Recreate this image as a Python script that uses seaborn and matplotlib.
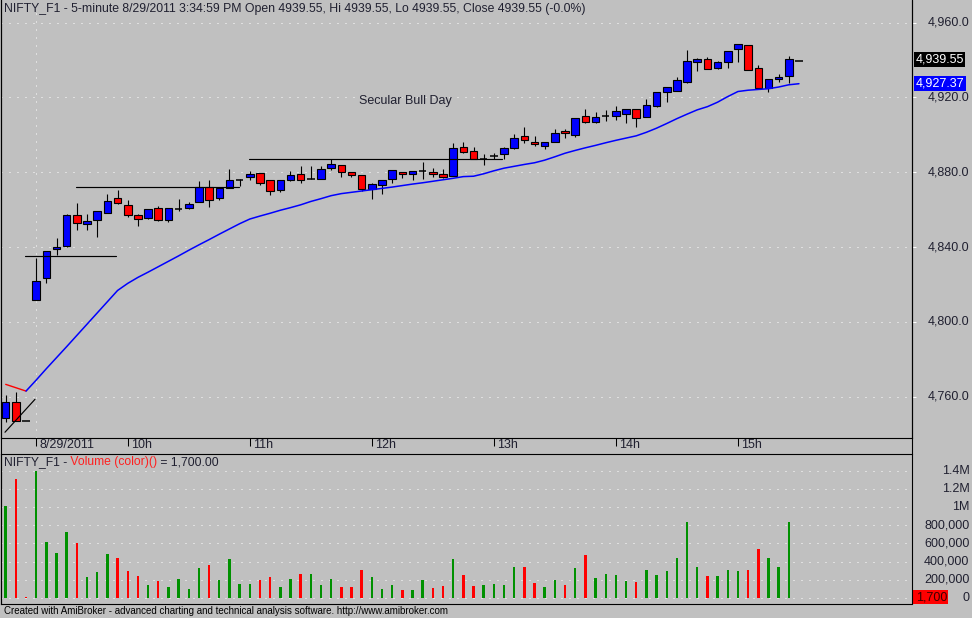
import numpy as np
import pandas as pd
import matplotlib
matplotlib.use("Agg")
import matplotlib.pyplot as plt
import matplotlib.transforms as mtransforms
from matplotlib.patches import Rectangle
from matplotlib.lines import Line2D
import seaborn as sns

# NIFTY_F1 5-minute bars (last 3 bars of 8/26 + 8/29/2011)
opens = [4748.4, 4757.0, 4746.9, 4811.6, 4823.3, 4838.8, 4840.7, 4857.2, 4852.2, 4854.7,
         4858.1, 4866.1, 4862.5, 4857.2, 4855.4, 4861.1, 4854.3, 4860.5, 4860.7, 4864.3,
         4872.0, 4866.1, 4871.6, 4876.0, 4877.3, 4879.6, 4875.7, 4870.4, 4875.7, 4879.1,
         4876.6, 4876.6, 4882.5, 4883.9, 4880.0, 4878.4, 4871.2, 4873.1, 4876.3, 4880.0,
         4878.9, 4880.9, 4880.0, 4878.9, 4878.2, 4893.4, 4891.2, 4887.1, 4888.9, 4889.6,
         4892.8, 4899.3, 4896.0, 4894.2, 4896.4, 4902.1, 4900.1, 4910.0, 4906.7, 4910.0,
         4910.0, 4911.3, 4913.7, 4909.7, 4915.6, 4923.1, 4923.6, 4928.1, 4938.8, 4940.4,
         4935.6, 4938.8, 4945.9, 4948.1, 4935.6, 4924.9, 4929.7, 4931.5, 4939.55]
highs = [4760.9, 4762.4, 4746.9, 4834.3, 4838.0, 4845.0, 4857.5, 4863.7, 4857.7, 4859.5,
         4868.2, 4870.5, 4865.2, 4857.9, 4860.4, 4862.0, 4860.8, 4865.6, 4864.3, 4875.3,
         4875.9, 4871.6, 4881.8, 4876.2, 4880.7, 4879.8, 4875.9, 4875.9, 4880.7, 4883.4,
         4883.4, 4883.5, 4887.0, 4884.1, 4880.2, 4878.6, 4874.1, 4876.1, 4881.4, 4880.2,
         4880.9, 4885.5, 4882.5, 4881.6, 4895.8, 4896.2, 4893.4, 4889.6, 4890.3, 4893.7,
         4900.5, 4904.2, 4899.4, 4896.2, 4903.2, 4903.0, 4909.1, 4913.9, 4912.2, 4913.3,
         4915.5, 4913.9, 4913.9, 4919.0, 4923.0, 4925.7, 4930.8, 4945.4, 4941.3, 4941.5,
         4939.5, 4944.9, 4948.6, 4948.3, 4937.4, 4929.9, 4932.7, 4942.2, 4939.55]
lows = [4746.3, 4747.0, 4746.9, 4811.6, 4820.6, 4835.8, 4840.2, 4849.1, 4849.1, 4845.6,
        4858.0, 4863.0, 4856.0, 4851.3, 4855.2, 4854.0, 4853.3, 4859.3, 4860.5, 4864.0,
        4861.6, 4865.2, 4871.4, 4872.8, 4875.9, 4873.2, 4867.9, 4869.6, 4875.5, 4874.4,
        4876.6, 4876.4, 4881.2, 4877.6, 4877.6, 4870.0, 4865.6, 4868.6, 4874.1, 4877.2,
        4875.9, 4876.6, 4877.3, 4877.0, 4878.0, 4890.2, 4887.0, 4884.1, 4887.0, 4887.0,
        4892.6, 4895.8, 4894.1, 4892.3, 4896.2, 4898.5, 4899.0, 4906.5, 4906.5, 4907.4,
        4908.0, 4906.5, 4904.4, 4909.5, 4915.0, 4917.8, 4923.4, 4927.9, 4934.3, 4935.0,
        4935.1, 4935.9, 4939.1, 4934.5, 4924.9, 4923.1, 4928.4, 4927.9, 4939.55]
closes = [4757.3, 4747.2, 4746.9, 4821.9, 4837.9, 4840.1, 4857.2, 4852.7, 4854.0, 4859.3,
          4864.5, 4863.4, 4857.0, 4854.9, 4860.2, 4854.3, 4860.7, 4860.5, 4862.9, 4872.0,
          4865.0, 4871.4, 4875.7, 4876.0, 4879.1, 4874.1, 4869.8, 4875.7, 4878.6, 4876.0,
          4876.6, 4881.9, 4884.4, 4880.0, 4878.4, 4871.2, 4873.7, 4875.9, 4881.2, 4878.9,
          4880.7, 4880.9, 4878.9, 4877.3, 4892.8, 4890.7, 4887.0, 4887.1, 4888.9, 4892.8,
          4898.2, 4897.1, 4895.0, 4896.0, 4900.9, 4900.9, 4908.9, 4906.7, 4909.4, 4910.0,
          4912.8, 4913.7, 4909.2, 4915.8, 4922.8, 4925.5, 4929.2, 4939.4, 4940.6, 4935.1,
          4938.8, 4944.7, 4948.4, 4934.5, 4924.9, 4929.7, 4931.0, 4940.6, 4939.55]
# moving average line as drawn on the chart
ema = [4766.6, 4764.8, 4763.0, 4768.9, 4775.0, 4780.9, 4786.8, 4792.8, 4798.8, 4804.8,
       4810.8, 4816.8, 4820.6, 4823.8, 4826.6, 4829.5, 4832.4, 4835.3, 4838.3, 4841.2,
       4844.0, 4846.9, 4849.7, 4852.5, 4855.0, 4856.6, 4858.1, 4859.7, 4861.1, 4862.6,
       4864.4, 4865.9, 4867.5, 4868.6, 4869.3, 4870.0, 4870.7, 4871.4, 4872.1, 4872.9,
       4873.7, 4874.4, 4875.2, 4876.0, 4876.8, 4877.7, 4877.9, 4879.2, 4880.8, 4882.2,
       4883.2, 4884.2, 4885.1, 4886.5, 4888.3, 4890.2, 4891.7, 4893.1, 4894.4, 4895.8,
       4897.1, 4898.3, 4899.5, 4901.4, 4903.6, 4906.1, 4908.7, 4911.1, 4913.4, 4915.1,
       4917.5, 4920.5, 4923.2, 4923.9, 4924.3, 4924.7, 4925.6, 4926.8, 4927.37]
volume = [1016000, 1313000, 10000, 1400000, 611000, 490000, 720000, 600000, 227000, 282000,
          479000, 435000, 293000, 238000, 139000, 183000, 117000, 205000, 95000, 325000,
          358000, 194000, 424000, 150000, 150000, 194000, 227000, 117000, 205000, 260000,
          260000, 139000, 205000, 117000, 117000, 303000, 227000, 95000, 139000, 86000,
          86000, 198000, 110000, 132000, 429000, 253000, 132000, 143000, 154000, 143000,
          341000, 341000, 165000, 121000, 198000, 143000, 330000, 473000, 220000, 264000,
          253000, 187000, 176000, 308000, 253000, 297000, 440000, 837000, 341000, 242000,
          242000, 308000, 297000, 308000, 539000, 440000, 341000, 837000, 1700]
# 1 = green volume bar, 0 = red
vol_up = [1, 0, 0, 1, 1, 1, 1, 0, 1, 1, 1, 0, 0, 0, 1, 0, 1, 1, 1, 1,
          0, 1, 1, 1, 1, 0, 0, 1, 1, 0, 1, 1, 1, 0, 0, 0, 1, 1, 1, 0,
          1, 1, 0, 0, 1, 0, 0, 1, 1, 1, 1, 0, 0, 1, 1, 0, 1, 0, 1, 1,
          1, 1, 0, 1, 1, 1, 1, 1, 1, 0, 1, 1, 1, 0, 0, 1, 1, 1, 0]

tick_bars = [3, 12, 24, 36, 48, 60, 72]
tick_labels = ["8/29/2011", "10h", "11h", "12h", "13h", "14h", "15h"]
price_ticks = [4760, 4800, 4840, 4880, 4920, 4960]
vol_ticks = [0, 200000, 400000, 600000, 800000, 1000000, 1200000, 1400000]
vol_labels = ["0", "200,000", "400,000", "600,000", "800,000", "1M", "1.2M", "1.4M"]

# hand drawn trend lines: (bar from, bar to, price from, price to)
draw_x0 = [1.9, 6.9, 23.9, -0.07]
draw_x1 = [10.8, 22.9, 48.8, 2.88]
draw_y0 = [4835.2, 4872.0, 4887.0, 4741.0]
draw_y1 = [4835.2, 4872.0, 4887.0, 4758.6]

df = pd.DataFrame({"open": opens, "high": highs, "low": lows, "close": closes,
                   "ema": ema, "volume": volume, "up": vol_up})
df["bar"] = np.arange(len(df))

BG = "#c0c0c0"
TXT = "#202030"
sns.set_theme(style="white", rc={"axes.facecolor": BG, "figure.facecolor": BG,
                                 "axes.edgecolor": "black"})
plt.rcParams["font.family"] = ["Liberation Sans", "DejaVu Sans"]

W, H = 972, 618
fig = plt.figure(figsize=(W / 100, H / 100), dpi=100)


def fx(px):
    return px / W


def fy(py):
    return 1 - py / H


ax = fig.add_axes([fx(1), fy(438.3), fx(911.7) - fx(1), 438.3 / H])
axv = fig.add_axes([fx(1), fy(604.3), fx(911.7) - fx(1), (604.3 - 454.3) / H])
xlim = ((1 - 5.7) / 10.17, (911.7 - 5.7) / 10.17)
dots = (0, (1, 7))

# ---- price pane ----
ax.set_xlim(*xlim)
ax.set_ylim(4737.75, 4972.14)
ax.hlines(price_ticks, *xlim, colors="white", lw=0.72, linestyles=dots, zorder=1)
ax.axvline(tick_bars[0], color="white", lw=0.72, ls=dots, zorder=1)

for i, r in df.iterrows():
    ax.vlines(i, r["low"], r["high"], color="black", lw=0.8, zorder=2)
    if r["close"] == r["open"]:
        ax.hlines(r["close"], i - 0.37, i + 0.37, color="black", lw=1.1, zorder=3)
        continue
    col = "#0000ff" if r["close"] > r["open"] else "#ff0000"
    ax.add_patch(Rectangle((i - 0.37, min(r["open"], r["close"])), 0.74,
                           abs(r["close"] - r["open"]), fc=col, ec="black",
                           lw=0.8, zorder=3))

sns.lineplot(data=df.iloc[:3], x="bar", y="ema", color="#ff0000", lw=1.0, ax=ax, zorder=4)
sns.lineplot(data=df.iloc[2:], x="bar", y="ema", color="#0000ff", lw=1.1, ax=ax, zorder=4)

for a, b, c, d in zip(draw_x0, draw_x1, draw_y0, draw_y1):
    ax.plot([a, b], [c, d], color="black", lw=0.85, zorder=5)

ax.text(39.3, 4918.1, "Secular Bull Day", ha="center", va="center",
        fontsize=9, color=TXT)

ax.set_xticks(tick_bars)
ax.set_yticks(price_ticks)
ax.yaxis.tick_right()
ax.tick_params(axis="x", direction="out", length=5.8, width=0.75, color="black",
               labelbottom=False, bottom=True)
ax.tick_params(axis="y", direction="out", length=2.6, width=0.75, color="white",
               labelright=False, right=True, left=False)
ax.set_xlabel("")
ax.set_ylabel("")
ax.spines["top"].set_visible(False)
for s in ["left", "right", "bottom"]:
    ax.spines[s].set_linewidth(0.8)

for b, lab in zip(tick_bars, tick_labels):
    ax.annotate(lab, xy=(b, 0), xycoords=("data", "axes fraction"),
                xytext=(2.2, -5.0), textcoords="offset points",
                ha="left", va="center", fontsize=9, color=TXT)

tr_p = mtransforms.blended_transform_factory(fig.transFigure, ax.transData)
for p in price_ticks:
    ax.text(fx(969.5), p, f"{p:,.1f}", transform=tr_p, ha="right", va="center",
            fontsize=9, color=TXT, clip_on=False)
ax.text(fx(915.5), closes[-1] + 0.9, f"{closes[-1]:,.2f}", transform=tr_p, ha="left",
        va="center", fontsize=9, color="white", clip_on=False,
        bbox=dict(boxstyle="square,pad=0.12", fc="black", ec="none"))
ax.text(fx(915.5), ema[-1] + 0.3, f"{ema[-1]:,.2f}", transform=tr_p, ha="left",
        va="center", fontsize=9, color="white", clip_on=False,
        bbox=dict(boxstyle="square,pad=0.12", fc="#0000ff", ec="none"))

# ---- volume pane ----
axv.set_xlim(*xlim)
axv.set_ylim(-69000, 1579000)
axv.hlines(vol_ticks, *xlim, colors="white", lw=0.72, linestyles=dots, zorder=1)
vcols = np.where(df["up"] == 1, "#009100", "#ff0000")
axv.bar(df["bar"], df["volume"], width=0.24, color=vcols, linewidth=0, zorder=2)
axv.set_xticks([])
axv.set_yticks([])
for s in axv.spines.values():
    s.set_linewidth(0.8)
axv.spines["right"].set_visible(False)

tr_v = mtransforms.blended_transform_factory(fig.transFigure, axv.transData)
for v, lab in zip(vol_ticks, vol_labels):
    axv.text(fx(969.5), v, lab, transform=tr_v, ha="right", va="center",
             fontsize=9, color=TXT, clip_on=False)
axv.add_patch(Rectangle((fx(912), -66000), fx(948) - fx(912), 154000,
                        transform=tr_v, fc="#ff0000", ec="none", clip_on=False, zorder=5))
axv.text(fx(947), 10000, f"{volume[-1]:,}", transform=tr_v, ha="right", va="center",
         fontsize=9, color="#3a0000", clip_on=False, zorder=6)

t1 = fig.text(fx(4), fy(462.5), "NIFTY_F1 -", fontsize=8.7, color=TXT, va="center")
t2 = axv.annotate(" Volume (color)()", xy=(1, 0), xycoords=t1, fontsize=8.7,
                  color="#ff2020", va="bottom", ha="left")
axv.annotate(" = 1,700.00", xy=(1, 0), xycoords=t2, fontsize=8.7,
             color=TXT, va="bottom", ha="left")

# ---- title, frame, footer ----
fig.text(fx(4), fy(9), "NIFTY_F1 - 5-minute 8/29/2011 3:34:59 PM Open 4939.55, "
         "Hi 4939.55, Lo 4939.55, Close 4939.55 (-0.0%)",
         fontsize=8.8, color=TXT, va="center", ha="left")
fig.add_artist(Line2D([fx(911.7), fx(911.7)], [fy(0), fy(604.3)], color="black", lw=0.8))
fig.add_artist(Line2D([fx(0.5), fx(0.5)], [fy(0), fy(604.3)], color="black", lw=0.8))
fig.text(fx(4), fy(611.5), "Created with AmiBroker - advanced charting and technical "
         "analysis software. http://www.amibroker.com", fontsize=7, color="black",
         va="center", ha="left")

fig.savefig("out.png", dpi=100, facecolor=BG)
